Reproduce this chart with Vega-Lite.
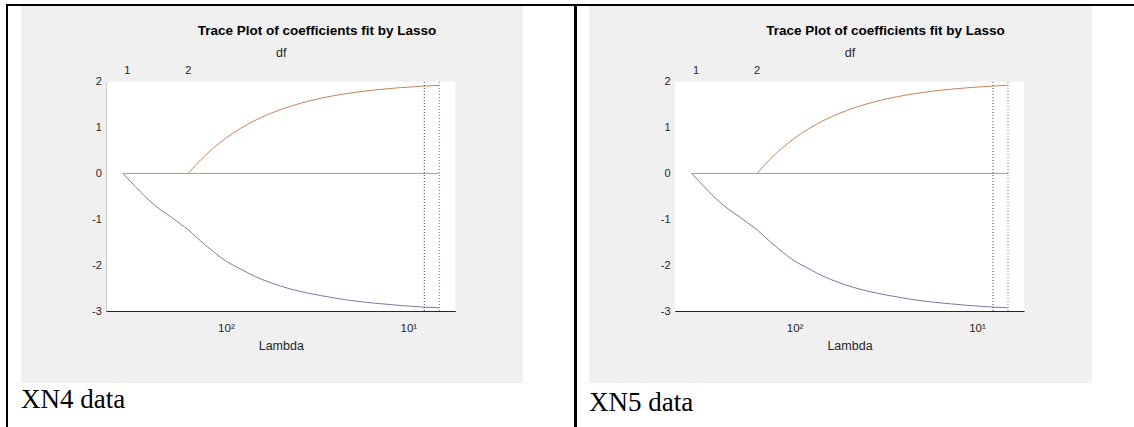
{
  "$schema": "https://vega.github.io/schema/vega-lite/v6.json",
  "background": "white",
  "padding": {"left": 6, "top": 4, "right": 0, "bottom": 0},
  "config": {"view": {"stroke": null}, "font": "Liberation Sans"},
  "datasets": {
    "trace": [
      {"coef": "b3", "lambda": 366.5, "beta": 0},
      {"coef": "b3", "lambda": 6.76, "beta": 0},
      {"coef": "b1", "lambda": 366.5, "beta": 0},
      {"coef": "b1", "lambda": 334.3, "beta": -0.17},
      {"coef": "b1", "lambda": 294.6, "beta": -0.40},
      {"coef": "b1", "lambda": 259.7, "beta": -0.61},
      {"coef": "b1", "lambda": 228.8, "beta": -0.79},
      {"coef": "b1", "lambda": 201.7, "beta": -0.94},
      {"coef": "b1", "lambda": 177.8, "beta": -1.10},
      {"coef": "b1", "lambda": 160.7, "beta": -1.23},
      {"coef": "b1", "lambda": 145.3, "beta": -1.39},
      {"coef": "b1", "lambda": 129.7, "beta": -1.56},
      {"coef": "b1", "lambda": 114.3, "beta": -1.74},
      {"coef": "b1", "lambda": 100.8, "beta": -1.90},
      {"coef": "b1", "lambda": 83.4, "beta": -2.08},
      {"coef": "b1", "lambda": 69.0, "beta": -2.25},
      {"coef": "b1", "lambda": 57.1, "beta": -2.38},
      {"coef": "b1", "lambda": 44.3, "beta": -2.52},
      {"coef": "b1", "lambda": 34.5, "beta": -2.62},
      {"coef": "b1", "lambda": 26.8, "beta": -2.70},
      {"coef": "b1", "lambda": 20.8, "beta": -2.77},
      {"coef": "b1", "lambda": 15.2, "beta": -2.83},
      {"coef": "b1", "lambda": 11.06, "beta": -2.88},
      {"coef": "b1", "lambda": 8.59, "beta": -2.91},
      {"coef": "b1", "lambda": 6.76, "beta": -2.93},
      {"coef": "b2", "lambda": 160.7, "beta": 0},
      {"coef": "b2", "lambda": 145.3, "beta": 0.196},
      {"coef": "b2", "lambda": 129.7, "beta": 0.394},
      {"coef": "b2", "lambda": 114.3, "beta": 0.588},
      {"coef": "b2", "lambda": 100.8, "beta": 0.759},
      {"coef": "b2", "lambda": 83.4, "beta": 0.978},
      {"coef": "b2", "lambda": 69.0, "beta": 1.158},
      {"coef": "b2", "lambda": 57.1, "beta": 1.306},
      {"coef": "b2", "lambda": 44.3, "beta": 1.464},
      {"coef": "b2", "lambda": 34.5, "beta": 1.586},
      {"coef": "b2", "lambda": 26.8, "beta": 1.680},
      {"coef": "b2", "lambda": 20.8, "beta": 1.753},
      {"coef": "b2", "lambda": 15.2, "beta": 1.821},
      {"coef": "b2", "lambda": 11.06, "beta": 1.870},
      {"coef": "b2", "lambda": 8.59, "beta": 1.900},
      {"coef": "b2", "lambda": 6.76, "beta": 1.922}
    ],
    "cvlines": [
      {"fit": "Lambda1SE", "lambda": 8.17},
      {"fit": "LambdaMinMSE", "lambda": 6.76}
    ],
    "dfticks": [
      {"lambda": 347, "df": "1"},
      {"lambda": 160.7, "df": "2"}
    ]
  },
  "spacing": 0,
  "vconcat": [
    {"data": {"values": []}, "mark": "point", "width": 1128, "height": 2, "view": {"fill": "black", "stroke": null}},
    {
      "spacing": 13,
      "hconcat": [
        {"data": {"values": []}, "mark": "point", "width": 2, "height": 421, "view": {"fill": "black", "stroke": null}},
        {
          "spacing": 51,
          "hconcat": [
            {
              "title": {"text": "XN4 data", "orient": "bottom", "anchor": "start", "frame": "group", "font": "Liberation Serif", "fontSize": 27, "fontWeight": "normal", "color": "black", "baseline": "top", "offset": 4},
              "vconcat": [
                {
                  "width": 502, "height": 377,
                  "view": {"fill": "#f0f0f0", "stroke": null},
                  "title": {"text": "Trace Plot of coefficients fit by Lasso", "fontSize": 13.5, "fontWeight": "bold", "color": "black", "anchor": "middle", "frame": "group", "dx": 45, "offset": -31},
                  "resolve": {"axis": {"x": "independent", "y": "independent"}, "scale": {"color": "independent"}},
                  "layer": [
                    {"data": {"values": [{}]}, "mark": {"type": "rect", "fill": "white"},
                     "encoding": {"x": {"datum": 452.6, "type": "quantitative", "axis": null}, "x2": {"datum": 5.525},
                                  "y": {"datum": -3, "type": "quantitative", "axis": null}, "y2": {"datum": 2}}},
                    {"data": {"name": "trace"}, "mark": {"type": "line", "strokeWidth": 1, "interpolate": "monotone"},
                     "encoding": {
                       "x": {"field": "lambda", "type": "quantitative",
                             "scale": {"type": "log", "domain": [5.525, 452.6], "range": [434.3, 85.3], "nice": false},
                             "axis": {"orient": "bottom", "offset": -72, "values": [400, 300, 200, 100, 90, 80, 70, 60, 50, 40, 30, 20, 10, 9, 8, 7, 6],
                                      "labelExpr": "datum.value == 100 ? '10²' : datum.value == 10 ? '10¹' : ''",
                                      "tickSize": -3, "tickColor": "#262626", "domainColor": "#262626", "labelColor": "#262626",
                                      "labelFontSize": 11.5, "labelPadding": 14, "labelOverlap": false, "labelFlush": false, "grid": false,
                                      "title": "Lambda", "titleFontSize": 12.5, "titleFontWeight": "normal", "titleColor": "#262626", "titlePadding": 6}},
                       "y": {"field": "beta", "type": "quantitative",
                             "scale": {"domain": [-3, 2], "range": [305, 75.7], "nice": false, "zero": false},
                             "axis": {"orient": "left", "offset": -85.3, "values": [-3, -2, -1, 0, 1, 2], "labelExpr": "'' + datum.value",
                                      "tickSize": -3, "tickColor": "#262626", "domainColor": "#262626", "labelColor": "#262626",
                                      "labelFontSize": 11, "labelPadding": 8, "grid": false, "title": null}},
                       "color": {"field": "coef", "type": "nominal", "scale": {"domain": ["b1", "b2", "b3"], "range": ["#8474a6", "#c7845a", "#a3a65a"]}, "legend": null}
                     }},
                    {"data": {"name": "cvlines"}, "mark": {"type": "rule", "strokeDash": [1, 2], "strokeWidth": 1},
                     "encoding": {"x": {"field": "lambda", "type": "quantitative", "axis": null},
                                  "y": {"datum": -3, "type": "quantitative", "axis": null}, "y2": {"datum": 2},
                                  "color": {"field": "fit", "type": "nominal", "scale": {"domain": ["Lambda1SE", "LambdaMinMSE"], "range": ["#2a3f72", "#4a9e4a"]}, "legend": null}}},
                    {"data": {"name": "dfticks"}, "mark": {"type": "text", "fontSize": 11, "dy": -11, "color": "#262626", "baseline": "middle"},
                     "encoding": {"x": {"field": "lambda", "type": "quantitative",
                                        "axis": {"orient": "top", "offset": -75.7, "labels": false, "ticks": false, "domain": false, "grid": false,
                                                 "title": "df", "titleFontSize": 12.5, "titleFontWeight": "normal", "titleColor": "#262626", "titlePadding": 22}},
                                  "y": {"datum": 2, "type": "quantitative", "axis": null},
                                  "text": {"field": "df"}}}
                  ]
                }
              ]
            },
            {
              "spacing": 12,
              "hconcat": [
                {"data": {"values": []}, "mark": "point", "width": 3, "height": 421, "view": {"fill": "black", "stroke": null}},
                {
                  "title": {"text": "XN5 data", "orient": "bottom", "anchor": "start", "frame": "group", "font": "Liberation Serif", "fontSize": 27, "fontWeight": "normal", "color": "black", "baseline": "top", "offset": 7},
                  "vconcat": [
                    {
                      "width": 503, "height": 377,
                      "view": {"fill": "#f0f0f0", "stroke": null},
                      "title": {"text": "Trace Plot of coefficients fit by Lasso", "fontSize": 13.5, "fontWeight": "bold", "color": "black", "anchor": "middle", "frame": "group", "dx": 45, "offset": -31},
                      "resolve": {"axis": {"x": "independent", "y": "independent"}, "scale": {"color": "independent"}},
                      "layer": [
                        {"data": {"values": [{}]}, "mark": {"type": "rect", "fill": "white"},
                         "encoding": {"x": {"datum": 452.6, "type": "quantitative", "axis": null}, "x2": {"datum": 5.525},
                                      "y": {"datum": -3, "type": "quantitative", "axis": null}, "y2": {"datum": 2}}},
                        {"data": {"name": "trace"}, "mark": {"type": "line", "strokeWidth": 1, "interpolate": "monotone"},
                         "encoding": {
                           "x": {"field": "lambda", "type": "quantitative",
                                 "scale": {"type": "log", "domain": [5.525, 452.6], "range": [435, 86], "nice": false},
                                 "axis": {"orient": "bottom", "offset": -72, "values": [400, 300, 200, 100, 90, 80, 70, 60, 50, 40, 30, 20, 10, 9, 8, 7, 6],
                                          "labelExpr": "datum.value == 100 ? '10²' : datum.value == 10 ? '10¹' : ''",
                                          "tickSize": -3, "tickColor": "#262626", "domainColor": "#262626", "labelColor": "#262626",
                                          "labelFontSize": 11.5, "labelPadding": 14, "labelOverlap": false, "labelFlush": false, "grid": false,
                                          "title": "Lambda", "titleFontSize": 12.5, "titleFontWeight": "normal", "titleColor": "#262626", "titlePadding": 6}},
                           "y": {"field": "beta", "type": "quantitative",
                                 "scale": {"domain": [-3, 2], "range": [305, 75.7], "nice": false, "zero": false},
                                 "axis": {"orient": "left", "offset": -86, "values": [-3, -2, -1, 0, 1, 2], "labelExpr": "'' + datum.value",
                                          "tickSize": -3, "tickColor": "#262626", "domainColor": "#262626", "labelColor": "#262626",
                                          "labelFontSize": 11, "labelPadding": 8, "grid": false, "title": null}},
                           "color": {"field": "coef", "type": "nominal", "scale": {"domain": ["b1", "b2", "b3"], "range": ["#8474a6", "#c7845a", "#a3a65a"]}, "legend": null}
                         }},
                        {"data": {"name": "cvlines"}, "mark": {"type": "rule", "strokeDash": [1, 2], "strokeWidth": 1},
                         "encoding": {"x": {"field": "lambda", "type": "quantitative", "axis": null},
                                      "y": {"datum": -3, "type": "quantitative", "axis": null}, "y2": {"datum": 2},
                                      "color": {"field": "fit", "type": "nominal", "scale": {"domain": ["Lambda1SE", "LambdaMinMSE"], "range": ["#2a3f72", "#4a9e4a"]}, "legend": null}}},
                        {"data": {"name": "dfticks"}, "mark": {"type": "text", "fontSize": 11, "dy": -11, "color": "#262626", "baseline": "middle"},
                         "encoding": {"x": {"field": "lambda", "type": "quantitative",
                                            "axis": {"orient": "top", "offset": -75.7, "labels": false, "ticks": false, "domain": false, "grid": false,
                                                     "title": "df", "titleFontSize": 12.5, "titleFontWeight": "normal", "titleColor": "#262626", "titlePadding": 22}},
                                      "y": {"datum": 2, "type": "quantitative", "axis": null},
                                      "text": {"field": "df"}}}
                      ]
                    }
                  ]
                }
              ]
            }
          ]
        }
      ]
    }
  ]
}
